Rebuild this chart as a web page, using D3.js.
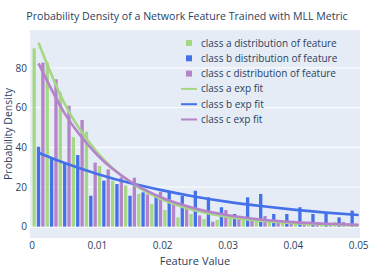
<!DOCTYPE html>
<html>
<head>
<meta charset="utf-8">
<script src="https://cdn.jsdelivr.net/npm/d3@7"></script>
<style>
  body { margin: 0; background: #fff; }
  text { font-family: "Open Sans", verdana, arial, sans-serif; fill: #2a3f5f; }
</style>
</head>
<body>
<div id="chart"></div>
<script>
// bin centres of the histogram (feature value)
const binCenters = [0.001, 0.003, 0.005, 0.007, 0.009, 0.011, 0.013, 0.015, 0.017, 0.019,
                    0.021, 0.023, 0.025, 0.027, 0.029, 0.031, 0.033, 0.035, 0.037, 0.039,
                    0.041, 0.043, 0.045, 0.047, 0.049];
const binWidth = 0.002;

// density per bin
const classA = [89.9, 82.7, 67.7, 45.1, 47.9, 30.6, 23.2, 20.7, 16.5, 11.4, 8.4, 4.7, 6.4,
                3.9, 3.4, 4.7, 3.4, 3.0, 2.7, 2.4, 1.5, 2.0, 1.5, 2.4, 1.0];
const classB = [40.3, 34.5, 31.9, 36.1, 15.6, 23.2, 21.5, 15.6, 17.3, 15.0, 18.0, 15.5, 18.1,
                14.8, 9.8, 6.4, 14.8, 16.5, 6.4, 6.4, 9.8, 6.4, 6.4, 4.7, 8.1];
const classC = [82.7, 74.3, 61.0, 53.8, 32.3, 28.9, 24.9, 24.7, 16.3, 17.6, 12.6, 10.4, 5.7,
                2.5, 8.4, 4.7, 3.7, 5.4, 3.4, 1.4, 1.0, 2.0, 1.0, 2.4, 1.0];

// exp fit curves, sampled
const fitX = [0.001, 0.005, 0.01, 0.015, 0.02, 0.025, 0.03, 0.035, 0.04, 0.045, 0.05];
const fitA = [92.7, 61.9, 37.4, 22.5, 13.6, 8.2, 4.95, 2.99, 1.8, 1.09, 0.66];
const fitB = [37.3, 32.1, 26.6, 22.0, 18.3, 15.1, 12.5, 10.4, 8.6, 7.1, 5.9];
const fitC = [82.3, 57.1, 36.1, 22.9, 14.5, 9.2, 5.8, 3.67, 2.32, 1.47, 0.93];

const xTicks = [0, 0.01, 0.02, 0.03, 0.04, 0.05];
const yTicks = [0, 20, 40, 60, 80];

const colA = "#a5d784", colB = "#4471ea", colC = "#b583c9";

const W = 374, H = 267;
const plot = { left: 30, right: 360, top: 30, bottom: 238 };

const svg = d3.select("#chart").append("svg")
    .attr("width", W)
    .attr("height", H);

const x = d3.scaleLinear().domain([0, 0.05]).range([32, 358.7]);
const y = d3.scaleLinear().domain([0, 80]).range([226.7, 68]);

// background
svg.append("rect")
    .attr("x", plot.left).attr("y", plot.top)
    .attr("width", plot.right - plot.left)
    .attr("height", plot.bottom - plot.top)
    .attr("fill", "#e5ecf6");

// grid
svg.append("g")
    .selectAll("line")
    .data(yTicks)
    .join("line")
    .attr("x1", plot.left).attr("x2", plot.right)
    .attr("y1", d => y(d)).attr("y2", d => y(d))
    .attr("stroke", "#fff")
    .attr("stroke-width", d => d === 0 ? 2 : 1);

// bars
const series = [
    { name: "class a distribution of feature", vals: classA, color: colA },
    { name: "class b distribution of feature", vals: classB, color: colB },
    { name: "class c distribution of feature", vals: classC, color: colC }
];
const slot = (x(binWidth) - x(0)) / 3;
const barW = slot * 0.76;

series.forEach((s, k) => {
    svg.append("g")
        .selectAll("rect")
        .data(s.vals)
        .join("rect")
        .attr("x", (d, i) => x(binCenters[i]) + (k - 1) * slot - barW / 2)
        .attr("width", barW)
        .attr("y", d => y(d))
        .attr("height", d => y(0) - y(d))
        .attr("fill", s.color);
});

// fit lines
const fits = [
    { name: "class a exp fit", vals: fitA, color: colA },
    { name: "class b exp fit", vals: fitB, color: colB },
    { name: "class c exp fit", vals: fitC, color: colC }
];
const line = d3.line()
    .x(d => x(d[0]))
    .y(d => y(d[1]))
    .curve(d3.curveMonotoneX);

fits.forEach(f => {
    svg.append("path")
        .datum(fitX.map((v, i) => [v, f.vals[i]]))
        .attr("d", line)
        .attr("fill", "none")
        .attr("stroke", f.color)
        .attr("stroke-width", 2.6);
});

// axes labels
svg.append("g")
    .selectAll("text")
    .data(xTicks)
    .join("text")
    .attr("x", d => x(d))
    .attr("y", 249)
    .attr("text-anchor", "middle")
    .style("font-size", "10px")
    .text(d => d3.format("")(d));

svg.append("g")
    .selectAll("text")
    .data(yTicks)
    .join("text")
    .attr("x", 27)
    .attr("y", d => y(d) + 3.5)
    .attr("text-anchor", "end")
    .style("font-size", "10px")
    .text(d => d);

svg.append("text")
    .attr("x", (plot.left + plot.right) / 2)
    .attr("y", 265)
    .attr("text-anchor", "middle")
    .style("font-size", "11px")
    .text("Feature Value");

svg.append("text")
    .attr("transform", `translate(12, ${(plot.top + plot.bottom) / 2}) rotate(-90)`)
    .attr("text-anchor", "middle")
    .style("font-size", "10.5px")
    .text("Probability Density");

// title
svg.append("text")
    .attr("x", W / 2)
    .attr("y", 20)
    .attr("text-anchor", "middle")
    .style("font-size", "10.6px")
    .text("Probability Density of a Network Feature Trained with MLL Metric");

// legend
const legend = svg.append("g").attr("transform", "translate(181, 43)");
const rows = series.map(s => ({ ...s, type: "bar" }))
    .concat(fits.map(f => ({ ...f, type: "line" })));

const row = legend.selectAll("g")
    .data(rows)
    .join("g")
    .attr("transform", (d, i) => `translate(0, ${i * 15.3})`);

row.filter(d => d.type === "bar").append("rect")
    .attr("x", 5).attr("y", -3)
    .attr("width", 6).attr("height", 6)
    .attr("fill", d => d.color);

row.filter(d => d.type === "line").append("line")
    .attr("x1", 0).attr("x2", 16)
    .attr("stroke", d => d.color)
    .attr("stroke-width", 2);

row.append("text")
    .attr("x", 20)
    .attr("y", 3.5)
    .style("font-size", "10px")
    .text(d => d.name);
</script>
</body>
</html>
